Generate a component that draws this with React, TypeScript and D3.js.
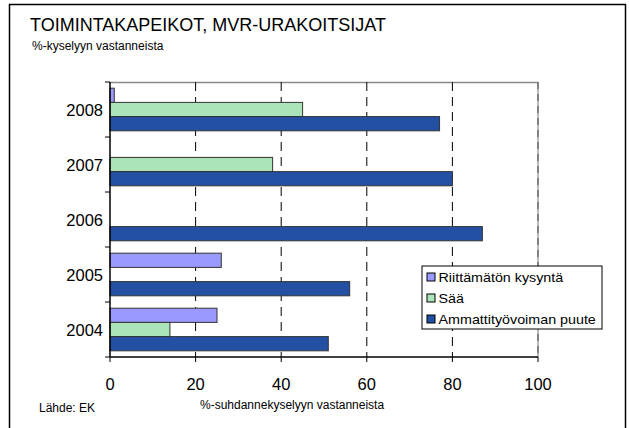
import React from "react";
import * as d3 from "d3";

const years = ["2008", "2007", "2006", "2005", "2004"];
const seriesNames = ["Riittämätön kysyntä", "Sää", "Ammattityövoiman puute"];
const riittamaton = [1, 0, 0, 26, 25];
const saa = [45, 38, 0, 0, 14];
const ammatti = [77, 80, 87, 56, 51];
const xTicks = [0, 20, 40, 60, 80, 100];
const colors = ["#9999FF", "#ABE4B9", "#2350A3"];

const title = "TOIMINTAKAPEIKOT, MVR-URAKOITSIJAT";
const subtitle = "%-kyselyyn vastanneista";
const xTitle = "%-suhdannekyselyyn vastanneista";
const source = "Lähde: EK";

export default function App() {
  const W = 629, H = 428;
  const left = 110, right = 538, top = 82, bottom = 357;
  const x = d3.scaleLinear().domain([0, 100]).range([left, right]);
  const y = d3.scaleBand().domain(years).range([top, bottom]).paddingInner(0.225).paddingOuter(0.1125);
  const inner = d3.scaleBand().domain(["0", "1", "2"]).range([0, y.bandwidth()]);
  const series = [riittamaton, saa, ammatti];
  const band = (bottom - top) / years.length;
  const font = "Liberation Sans, Arial, sans-serif";

  return (
    <svg width={W} height={H} style={{ position: "absolute", left: 0, top: 0 }} fontFamily={font}>
      <rect x={0} y={0} width={W} height={H} fill="#fff" />
      <rect x={9.5} y={4.5} width={616} height={440} fill="none" stroke="#000" strokeWidth={1.5} />
      <text x={30} y={31} fontSize={18}>{title}</text>
      <text x={32} y={50} fontSize={12}>{subtitle}</text>

      {/* plot border top & right */}
      <line x1={left} x2={right} y1={top + 0.5} y2={top + 0.5} stroke="#8a8a8a" strokeWidth={1.5} />
      <line x1={right} x2={right} y1={top} y2={bottom} stroke="#a0a0a0" strokeWidth={1.5} />
      <line x1={right} x2={right} y1={top} y2={bottom} stroke="#707070" strokeWidth={1.5} strokeDasharray="7,5" />

      {/* gridlines */}
      {xTicks.slice(1, -1).map((t) => (
        <line key={t} x1={x(t)} x2={x(t)} y1={top} y2={bottom} stroke="#000" strokeWidth={1} strokeDasharray="9,6" />
      ))}

      {/* bars */}
      {years.map((yr, i) =>
        series.map((s, k) =>
          s[i] > 0 ? (
            <rect
              key={yr + k}
              x={x(0)}
              y={(y(yr) as number) + (inner(String(k)) as number)}
              width={x(s[i]) - x(0)}
              height={inner.bandwidth()}
              fill={colors[k]}
              stroke="#333"
              strokeWidth={1}
            />
          ) : null
        )
      )}

      {/* axes */}
      <line x1={left} x2={left} y1={top} y2={bottom} stroke="#000" strokeWidth={1.5} />
      <line x1={left} x2={right} y1={bottom} y2={bottom} stroke="#000" strokeWidth={1.5} />
      {d3.range(years.length + 1).map((i) => (
        <line key={"yt" + i} x1={left - 5} x2={left} y1={top + i * band} y2={top + i * band} stroke="#000" strokeWidth={1} />
      ))}
      {xTicks.map((t) => (
        <line key={"xt" + t} x1={x(t)} x2={x(t)} y1={bottom} y2={bottom + 5} stroke="#000" strokeWidth={1} />
      ))}
      {xTicks.map((t) => (
        <text key={"xl" + t} x={x(t)} y={390} fontSize={16.5} textAnchor="middle">{t}</text>
      ))}
      {years.map((yr) => (
        <text key={"yl" + yr} x={103} y={(y(yr) as number) + y.bandwidth() / 2 + 6} fontSize={16.5} textAnchor="end">{yr}</text>
      ))}

      <text x={200} y={409} fontSize={12}>{xTitle}</text>
      <text x={39} y={412} fontSize={12}>{source}</text>

      {/* legend */}
      <rect x={422} y={266} width={180} height={63} fill="#fff" stroke="#000" strokeWidth={1} />
      {seriesNames.map((n, k) => (
        <g key={n} transform={`translate(427, ${277 + k * 21})`}>
          <rect x={0} y={-4} width={8} height={8} fill={colors[k]} stroke="#000" strokeWidth={1} />
          <text x={10.5} y={5} fontSize={13} transform="scale(1.1,1)">{n}</text>
        </g>
      ))}
    </svg>
  );
}
